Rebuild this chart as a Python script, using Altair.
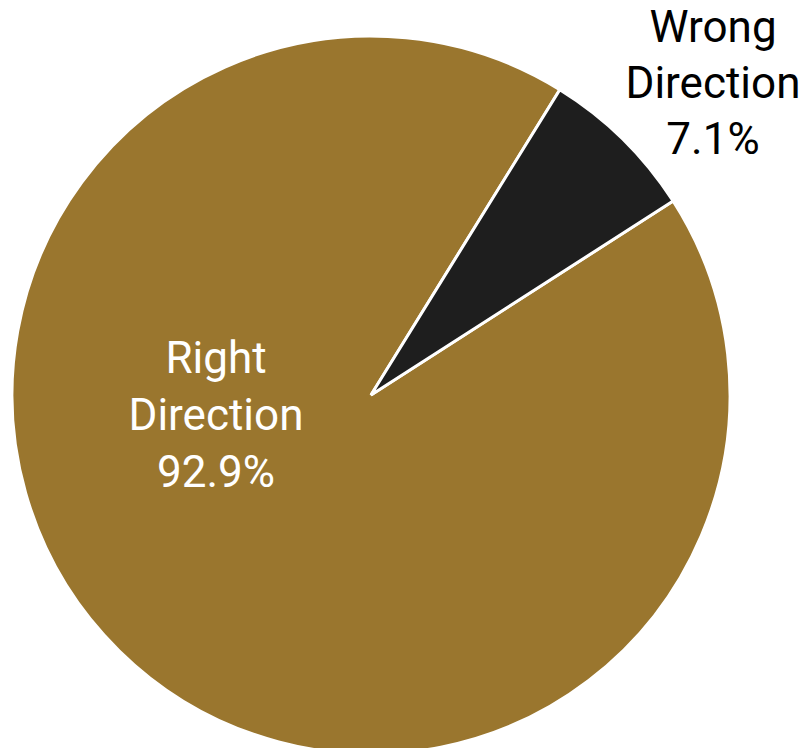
import altair as alt
import pandas as pd
import math

categories = ["Right Direction", "Wrong Direction"]
values = [92.9, 7.1]
labels = ["Right\nDirection\n92.9%", "Wrong\nDirection\n7.1%"]
colors = ["#9A762E", "#1E1E1E"]

df = pd.DataFrame({"category": categories, "value": values, "label": labels,
                   "order": [0, 1]})

FONT = "Roboto"
start = 1.0

pie = alt.Chart(df).mark_arc(outerRadius=359, stroke="white", strokeWidth=3).encode(
    theta=alt.Theta("value:Q", stack=True, scale=alt.Scale(range=[start, start + 2 * math.pi])),
    color=alt.Color("category:N", scale=alt.Scale(domain=categories, range=colors), legend=None),
    order=alt.Order("order:Q"),
    x=alt.value(363),
    y=alt.value(387),
)

right_text = alt.Chart(df).transform_filter(alt.datum.category == "Right Direction").mark_text(
    font=FONT, fontSize=44, color="white", lineBreak="\n", lineHeight=57,
    align="center", baseline="alphabetic"
).encode(text="label:N", x=alt.value(208), y=alt.value(365))

wrong_text = alt.Chart(df).transform_filter(alt.datum.category == "Wrong Direction").mark_text(
    font=FONT, fontSize=44, color="black", lineBreak="\n", lineHeight=56,
    align="center", baseline="alphabetic"
).encode(text="label:N", x=alt.value(705), y=alt.value(34))

chart = alt.layer(pie, right_text, wrong_text).properties(
    width=791, height=740, padding=0, autosize=alt.AutoSizeParams(type="none")
).configure_view(stroke=None)

chart.save("out.html", embed_options={"renderer": "svg", "actions": False})
